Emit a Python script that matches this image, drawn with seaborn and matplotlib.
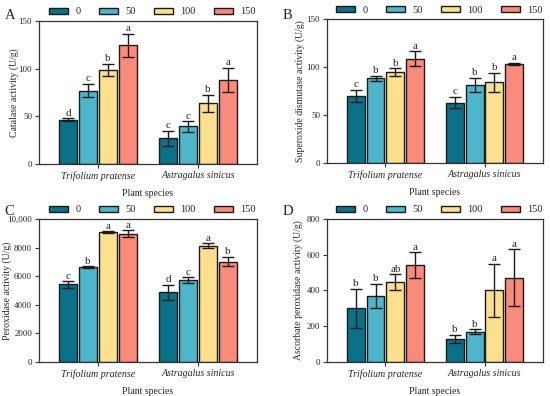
import pandas as pd
import seaborn as sns
from matplotlib import pyplot as plt
from matplotlib.ticker import FuncFormatter

SPECIES = ["Trifolium pratense", "Astragalus sinicus"]
DOSES = ["0", "50", "100", "150"]
COLORS = ["#0b7189", "#4db6cb", "#fde08d", "#fa8a7a"]

# values per species, ordered by dose 0, 50, 100, 150
cat_mean = [[46.4, 77, 98.7, 124.5], [26.9, 39.4, 63.5, 88.2]]
cat_err = [[1.5, 7, 6.3, 12], [8, 5.5, 9, 13]]
cat_sig = [["d", "c", "b", "a"], ["c", "c", "b", "a"]]

sod_mean = [[69.8, 88.2, 94.5, 108.8], [62.8, 81.3, 84, 103]]
sod_err = [[6.5, 2.5, 4, 7.5], [6, 7.5, 10, 1.2]]
sod_sig = [["c", "b", "b", "a"], ["c", "b", "b", "a"]]

pod_mean = [[5420, 6630, 9070, 8980], [4880, 5720, 8140, 7020]]
pod_err = [[230, 50, 80, 230], [520, 200, 160, 340]]
pod_sig = [["c", "b", "a", "a"], ["d", "c", "a", "b"]]

apx_mean = [[300, 368, 445, 541], [128, 169, 400, 471]]
apx_err = [[110, 68, 45, 72], [23, 13, 150, 160]]
apx_sig = [["b", "b", "ab", "a"], ["b", "b", "a", "a"]]

sns.set_style("white")
plt.rcParams["font.family"] = ["Liberation Serif", "DejaVu Serif"]
plt.rcParams["font.size"] = 7

fig = plt.figure(figsize=(5.5, 3.96), dpi=100)


def panel(rect, letter, mean, err, sig, ylabel, ymax, step, letter_pos, labelx):
    ax = fig.add_axes(rect)
    rows = []
    for i, sp in enumerate(SPECIES):
        for j, d in enumerate(DOSES):
            rows.append({"species": sp, "dose": d, "value": mean[i][j]})
    df = pd.DataFrame(rows)
    sns.barplot(data=df, x="species", y="value", hue="dose", hue_order=DOSES,
                palette=COLORS, edgecolor="#1a1a1a", linewidth=1.0, gap=0.1,
                errorbar=None, saturation=1, ax=ax)

    bars = list(ax.containers)
    for j, cont in enumerate(bars):
        for i, bar in enumerate(cont):
            xc = bar.get_x() + bar.get_width() / 2
            ax.errorbar(xc, mean[i][j], yerr=err[i][j], color="#1a1a1a",
                        lw=1, capsize=4, capthick=1)
            ax.text(xc, mean[i][j] + err[i][j] + ymax * 0.004, sig[i][j],
                    ha="center", va="bottom", fontsize=8)

    ax.set_xlim(-0.59, 1.59)
    ax.set_ylim(0, ymax)
    ax.set_yticks(range(0, ymax + 1, step))
    ax.yaxis.set_major_formatter(FuncFormatter(
        lambda v, p: f"{v:,.0f}" if v >= 10000 else f"{v:.0f}"))
    ax.set_xticks([0, 1])
    ax.set_xticklabels(SPECIES, style="italic", fontsize=7.2)
    ax.set_xlabel("Plant species", fontsize=7, labelpad=6)
    ax.set_ylabel(ylabel, fontsize=7)
    ax.yaxis.set_label_coords(labelx, 0.5)
    ax.tick_params(axis="both", direction="out", length=3, width=0.8,
                   color="#333333", labelsize=6.5, pad=2, bottom=True, left=True)
    ax.tick_params(axis="x", labelsize=7.2)
    for s in ax.spines.values():
        s.set_color("#333333")
        s.set_linewidth(0.9)

    ax.legend(ncol=4, loc="lower center", bbox_to_anchor=(0.52, 0.995),
              frameon=False, handlelength=1.85, handleheight=0.6,
              handletextpad=0.7, columnspacing=1.75, fontsize=7.5,
              borderaxespad=0.1)
    fig.text(letter_pos[0], letter_pos[1], letter, fontsize=10.5,
             ha="left", va="top")
    return ax


panel([0.0709, 0.5859, 0.3964, 0.3611], "A", cat_mean, cat_err, cat_sig,
      "Catalase activity (U/g)", 150, 50, (0.008, 0.978), -0.092)
panel([0.5945, 0.5884, 0.3927, 0.3636], "B", sod_mean, sod_err, sod_sig,
      "Superoxide dismutase activity (U/g)", 150, 50, (0.513, 0.978), -0.102)
panel([0.0709, 0.0859, 0.3964, 0.3611], "C", pod_mean, pod_err, pod_sig,
      "Peroxidase activity (U/g)", 10000, 2000, (0.008, 0.483), -0.124)
panel([0.5945, 0.0859, 0.3927, 0.3611], "D", apx_mean, apx_err, apx_sig,
      "Ascorbate peroxidase activity (U/g)", 800, 200, (0.513, 0.483), -0.111)

fig.savefig("out.png", dpi=100)
